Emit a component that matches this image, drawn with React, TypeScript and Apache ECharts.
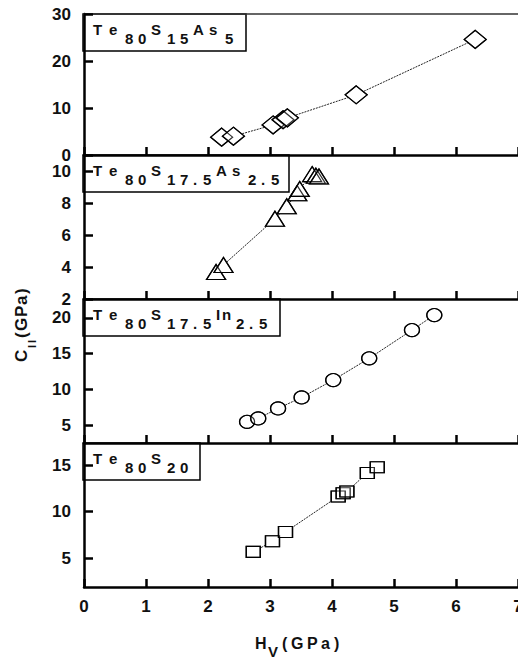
import React, { useEffect, useRef } from 'react';
import * as echarts from 'echarts';

// ---------- data ----------
const xTicks = [0, 1, 2, 3, 4, 5, 6, 7];

const hvAs5 = [2.22, 2.41, 3.05, 3.21, 3.28, 4.39, 6.31];
const cAs5 = [3.8, 4.0, 6.4, 7.5, 7.9, 12.8, 24.6];
const yTicksAs5 = [0, 10, 20, 30];

const hvAs25 = [2.13, 2.25, 3.08, 3.27, 3.44, 3.48, 3.68, 3.74, 3.79];
const cAs25 = [3.7, 4.14, 7.04, 7.83, 8.65, 8.92, 9.85, 9.75, 9.7];
const yTicksAs25 = [2, 4, 6, 8, 10];

const hvIn = [2.63, 2.81, 3.13, 3.51, 4.02, 4.6, 5.29, 5.65];
const cIn = [5.46, 5.94, 7.34, 8.88, 11.31, 14.35, 18.3, 20.4];
const yTicksIn = [5, 10, 15, 20];

const hvS20 = [2.73, 3.04, 3.25, 4.1, 4.18, 4.24, 4.57, 4.73];
const cS20 = [5.68, 6.82, 7.82, 11.65, 12.0, 12.18, 14.18, 14.79];
const yTicksS20 = [5, 10, 15];

const labelAs5: [string, boolean][] = [['Te', false], ['80', true], ['S', false], ['15', true], ['As', false], ['5', true]];
const labelAs25: [string, boolean][] = [['Te', false], ['80', true], ['S', false], ['17.5', true], ['As', false], ['2.5', true]];
const labelIn: [string, boolean][] = [['Te', false], ['80', true], ['S', false], ['17.5', true], ['In', false], ['2.5', true]];
const labelS20: [string, boolean][] = [['Te', false], ['80', true], ['S', false], ['20', true]];

const yTitleParts: [string, boolean][] = [['C', false], ['II', true], ['(GPa)', false]];
const xTitleParts: [string, boolean][] = [['H', false], ['V', true], ['(GPa)', false]];

// ---------- styling / layout ----------
const FONT = "'Liberation Sans', Arial, Helvetica, sans-serif";
const INK = '#111';

const panels = [
  { x: hvAs5, y: cAs5, ticks: yTicksAs5, min: 0, max: 30, symbol: 'diamond', size: [22, 18], label: labelAs5, boxW: 163 },
  { x: hvAs25, y: cAs25, ticks: yTicksAs25, min: 2, max: 11.05, symbol: 'triangle', size: [19, 15], label: labelAs25, boxW: 206 },
  { x: hvIn, y: cIn, ticks: yTicksIn, min: 2.5, max: 22.65, symbol: 'circle', size: [15, 13], label: labelIn, boxW: 197 },
  { x: hvS20, y: cS20, ticks: yTicksS20, min: 1.9, max: 17.4, symbol: 'rect', size: [14, 11], label: labelS20, boxW: 117 },
];

const gridTops = [14, 155, 299, 443];
const gridHeights = [141, 144, 144, 144];

// advance widths for the spaced-out formula lettering
function legendAdvance(c: string, sub: boolean) {
  if (sub) return c === '.' ? 10 : 13;
  if (c === 'I') return 6;
  if (c === 'n') return 14;
  return 16;
}

function legendChars(parts: [string, boolean][]) {
  const out: any[] = [];
  let x = 10;
  parts.forEach(([t, sub]) => {
    t.split('').forEach((c) => {
      out.push({
        type: 'text',
        x,
        y: sub ? 24.5 : 15.5,
        style: { text: c, fill: INK, font: `bold 15px ${FONT}`, align: 'left', verticalAlign: 'middle' },
      });
      x += legendAdvance(c, sub);
    });
  });
  return out;
}

function titleChars(parts: [string, boolean][], adv: Record<string, number>, mainSize: number, subSize: number, mainY: number, subY: number) {
  const out: any[] = [];
  let x = 0;
  parts.forEach(([t, sub]) => {
    t.split('').forEach((c) => {
      out.push({
        type: 'text',
        x,
        y: sub ? subY : mainY,
        style: { text: c, fill: INK, font: `bold ${sub ? subSize : mainSize}px ${FONT}`, align: 'left', verticalAlign: 'middle' },
      });
      x += adv[c] ?? 12;
    });
  });
  return out;
}

export default function App() {
  const ref = useRef<HTMLDivElement>(null);

  useEffect(() => {
    if (!ref.current) return;
    const chart = echarts.init(ref.current, undefined, { renderer: 'svg' });

    const grid = panels.map((_, i) => ({
      left: 84,
      right: 0,
      top: gridTops[i],
      height: gridHeights[i],
      containLabel: false,
      outerBoundsMode: 'none',
    }));

    const xAxis: any[] = panels.map((_, i) => ({
      type: 'value',
      gridIndex: i,
      min: 0,
      max: 7,
      interval: 1,
      axisLine: { show: true, onZero: false, lineStyle: { color: '#000', width: 2.5 } },
      axisTick: { show: true, inside: true, length: 8, customValues: xTicks, lineStyle: { color: '#000', width: 2.5 } },
      axisLabel: {
        show: i === panels.length - 1,
        customValues: xTicks,
        margin: 12,
        color: INK,
        fontSize: 17,
        lineHeight: 14,
        fontWeight: 'bold',
        fontFamily: FONT,
        hideOverlap: false,
      },
      splitLine: { show: false },
    }));
    xAxis.push({
      type: 'value',
      gridIndex: 0,
      position: 'top',
      min: 0,
      max: 7,
      interval: 1,
      axisLine: { show: true, onZero: false, lineStyle: { color: '#333', width: 1.5 } },
      axisTick: { show: false },
      axisLabel: { show: false },
      splitLine: { show: false },
    });

    const yAxis = panels.map((p, i) => ({
      type: 'value',
      gridIndex: i,
      min: p.min,
      max: p.max,
      axisLine: { show: true, onZero: false, lineStyle: { color: '#000', width: 2.5 } },
      axisTick: { show: true, inside: true, length: 9, customValues: p.ticks, lineStyle: { color: '#000', width: 2.5 } },
      axisLabel: {
        show: true,
        customValues: p.ticks,
        margin: 13,
        color: INK,
        fontSize: 17,
        lineHeight: 13,
        fontWeight: 'bold',
        fontFamily: FONT,
      },
      splitLine: { show: false },
    }));

    const series: any[] = [];
    panels.forEach((p, i) => {
      const data = p.x.map((v, k) => [v, p.y[k]]);
      series.push({
        type: 'line',
        xAxisIndex: i,
        yAxisIndex: i,
        data,
        symbol: p.symbol,
        symbolSize: p.size,
        showSymbol: true,
        itemStyle: { color: '#fff', borderColor: '#000', borderWidth: 1.2 },
        lineStyle: { color: '#222', width: 1, type: [2, 1] },
        emphasis: { disabled: true },
        silent: true,
        z: 2,
      });
      series.push({
        type: 'scatter',
        xAxisIndex: i,
        yAxisIndex: i,
        data,
        symbol: p.symbol,
        symbolSize: p.size,
        itemStyle: { color: 'rgba(0,0,0,0)', borderColor: '#000', borderWidth: 1.2 },
        emphasis: { disabled: true },
        silent: true,
        z: 3,
      });
    });

    const legendGraphics = panels.map((p, i) => ({
      type: 'group',
      x: 83,
      y: gridTops[i],
      z: 100,
      children: [
        {
          type: 'rect',
          shape: { x: 0, y: 0, width: p.boxW, height: 37 },
          style: { fill: '#fff', stroke: '#000', lineWidth: 1.5 },
        },
        ...legendChars(p.label),
      ],
    }));

    const yTitle = {
      type: 'group',
      x: 13,
      y: 362,
      rotation: Math.PI / 2,
      z: 100,
      children: titleChars(yTitleParts, { C: 14, I: 5, '(': 7, G: 14, P: 12, a: 11, ')': 6 }, 17, 11, 8, 18.5),
    };

    const xTitle = {
      type: 'group',
      x: 255,
      y: 643.5,
      z: 100,
      children: titleChars(xTitleParts, { H: 13, V: 14, '(': 9, G: 16, P: 14, a: 13, ')': 8 }, 16, 15, 0, 7.5),
    };

    chart.setOption({
      animation: false,
      backgroundColor: '#fff',
      grid,
      xAxis,
      yAxis,
      series,
      graphic: { elements: [...legendGraphics, yTitle, xTitle] },
    });

    return () => chart.dispose();
  }, []);

  return (
    <div
      ref={ref}
      style={{ position: 'fixed', left: 0, top: 0, width: 518, height: 658, background: '#fff' }}
    />
  );
}
